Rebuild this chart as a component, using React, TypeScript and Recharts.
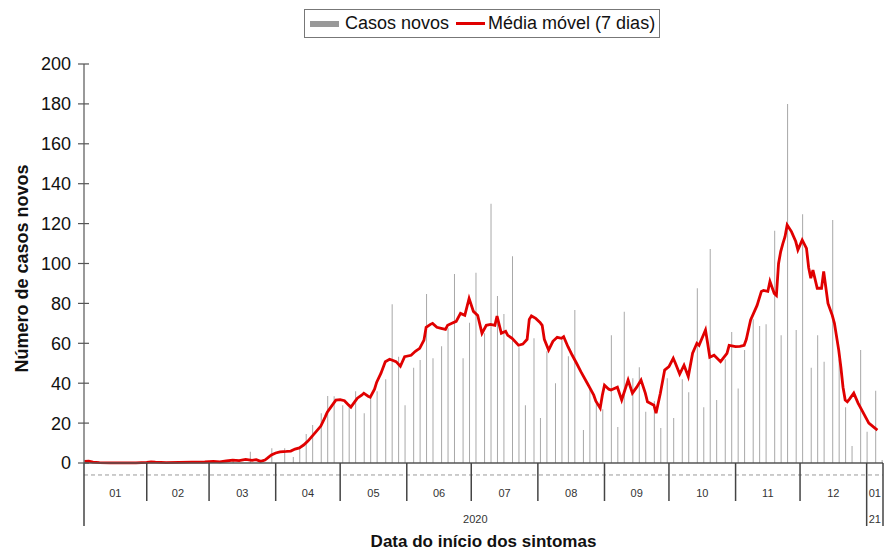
import React from 'react';
import { ComposedChart, Bar, Line, XAxis, YAxis, ReferenceLine } from 'recharts';

// Dia 0 = 01/01/2020
const diasCasos = [71, 79, 89, 95, 99, 102, 105, 108, 112, 115, 118, 122, 125, 128, 132, 135, 138, 142, 145, 148, 151, 155, 158, 161, 164, 168, 171, 174, 178, 181, 184, 188, 191, 194, 197, 201, 204, 207, 211, 214, 217, 221, 224, 227, 230, 234, 237, 240, 243, 247, 250, 253, 257, 260, 263, 267, 270, 273, 276, 280, 283, 287, 290, 293, 296, 300, 303, 306, 309, 313, 316, 319, 323, 326, 329, 333, 336, 340, 343, 346, 350, 353, 356, 359, 363, 366, 370, 373];
const casosNovos = [2, 5.7, 7.4, 7.4, 3, 8, 14.5, 19, 25, 33.6, 33.4, 29, 28, 36, 25, 33, 36, 42, 79.6, 53.3, 29, 47.8, 51.6, 84.7, 52.5, 58.5, 67.5, 94.7, 52.5, 70.3, 95.4, 65, 130, 83.7, 74.7, 103.6, 58, 29, 62.5, 22.5, 56, 40, 62, 53.5, 76.7, 16.5, 38, 30, 27, 64, 18, 75.8, 42.5, 48, 25.7, 31, 17.5, 42.5, 22.5, 42, 35.5, 87.6, 28, 107.3, 31.6, 52, 65.7, 37.4, 56.6, 72, 68.7, 69.5, 116.4, 64, 180, 66.7, 124.7, 47.8, 64, 50.8, 121.8, 52, 28, 8.5, 56.6, 15.7, 36.2, 1.5];

const diasMedia = [2, 4, 6, 9, 14, 20, 26, 31, 33, 35, 40, 46, 52, 58, 62, 65, 68, 71, 74, 77, 80, 82, 84, 86, 87, 89, 91, 93, 96, 98, 100, 102, 104, 106, 108, 110, 112, 114, 115, 117, 119, 121, 123, 125, 126, 128, 129, 131, 132, 134, 135, 137, 138, 140, 142, 144, 145, 147, 149, 151, 154, 156, 158, 160, 161, 163, 164, 166, 168, 170, 171, 173, 175, 177, 179, 181, 183, 185, 187, 189, 191, 193, 194, 196, 198, 199, 201, 204, 206, 208, 209, 210, 212, 214, 215, 216, 218, 220, 222, 224, 225, 227, 229, 231, 233, 236, 237, 239, 240, 242, 243, 244, 246, 247, 250, 252, 255, 257, 259, 261, 263, 264, 267, 268, 270, 272, 274, 276, 277, 279, 281, 283, 285, 287, 288, 291, 292, 293, 295, 298, 301, 302, 305, 307, 309, 310, 312, 315, 317, 318, 320, 321, 322, 323, 324, 325, 326, 327, 328, 329, 331, 333, 334, 336, 338, 339, 340, 341, 343, 345, 346, 348, 350, 351, 353, 354, 355, 356, 357, 358, 360, 362, 364, 365, 367, 369, 371];
const mediaMovel = [0.8, 0.9, 0.4, 0.2, 0.1, 0.1, 0.1, 0.3, 0.6, 0.4, 0.2, 0.3, 0.4, 0.5, 0.8, 0.6, 1.0, 1.4, 1.2, 1.8, 1.3, 1.7, 0.8, 1.5, 2.3, 4.0, 5.0, 5.6, 5.8, 6.0, 7.0, 7.6, 9.0, 11, 13.5, 16, 18.5, 23, 25.5, 28.5, 31.5, 31.8, 31.2, 29, 28, 31, 32.5, 34, 35, 33.5, 33, 37, 40.5, 45, 50.8, 52, 51.6, 50.8, 48.5, 53.3, 54, 56, 57.5, 61.6, 68, 69.5, 70, 68, 67.5, 67, 69, 70, 71, 75, 74, 82.5, 76, 74, 65, 69, 69.5, 69, 73.7, 65, 66, 64, 62.5, 59, 59.6, 62, 72, 73.7, 72.5, 70.5, 69, 62, 56.6, 61, 63, 62.5, 63.3, 58.3, 54, 50, 45.8, 40, 38, 34, 31, 27.5, 34, 39, 37, 36.6, 38, 31.6, 41.6, 35, 38, 41.6, 35, 30.7, 29, 25, 35, 46.6, 48.3, 52.5, 50, 44.6, 49, 43.3, 55, 60, 59, 66.7, 60, 53, 54, 50.8, 55, 59, 58.3, 58.5, 59, 62, 71.7, 79, 86, 86.5, 86, 91, 88, 85, 84, 100, 106, 110, 113.4, 119.3, 116, 111, 106.8, 111.8, 107.6, 98, 92.6, 96.7, 87.6, 87.6, 96, 80, 74, 70, 56.6, 48, 38, 31.6, 30.7, 32, 35, 30, 26, 24, 20, 18.2, 16.5];

const inicioMeses = [31, 60, 91, 121, 152, 182, 213, 244, 274, 305, 335, 366];
const rotulosMeses = ['01', '02', '03', '04', '05', '06', '07', '08', '09', '10', '11', '12', '01'];
const rotulosAnos = ['2020', '21'];
const yTicks = [0, 20, 40, 60, 80, 100, 120, 140, 160, 180, 200];
const DOMINIO: [number, number] = [1.8, 373.6];

const FONT = '"Liberation Sans", Arial, sans-serif';

// merge data
const mapa = new Map<number, any>();
diasCasos.forEach((d, i) => {
  mapa.set(d, { ...(mapa.get(d) || { dia: d }), casos: casosNovos[i] });
});
diasMedia.forEach((d, i) => {
  mapa.set(d, { ...(mapa.get(d) || { dia: d }), media: mediaMovel[i] });
});
const dados = Array.from(mapa.values()).sort((a, b) => a.dia - b.dia);

type TickDef = { v: number; kind: 'b' | 'm' | 'y'; len?: number; label?: string };
const tickDefs: TickDef[] = [];
tickDefs.push({ v: DOMINIO[0], kind: 'b', len: 63 });
inicioMeses.forEach((d, i) => {
  tickDefs.push({ v: d, kind: 'b', len: i === inicioMeses.length - 1 ? 63 : 38 });
});
tickDefs.push({ v: DOMINIO[1], kind: 'b', len: 63 });
const limites = [DOMINIO[0], ...inicioMeses, DOMINIO[1]];
rotulosMeses.forEach((lab, i) => {
  tickDefs.push({ v: (limites[i] + limites[i + 1]) / 2, kind: 'm', label: lab });
});
tickDefs.push({ v: (DOMINIO[0] + 366) / 2, kind: 'y', label: rotulosAnos[0] });
tickDefs.push({ v: (366 + DOMINIO[1]) / 2 + 0.01, kind: 'y', label: rotulosAnos[1] });
const xTicks = tickDefs.map((t) => t.v).sort((a, b) => a - b);

const XTick = (props: any) => {
  const { x, y, payload } = props;
  const def = tickDefs.find((d) => Math.abs(d.v - payload.value) < 1e-6);
  if (!def) return <g />;
  if (def.kind === 'b') {
    return <line x1={x} x2={x} y1={y} y2={y + (def.len || 38)} stroke="#444" strokeWidth={1.5} />;
  }
  return (
    <text x={x} y={y + (def.kind === 'm' ? 34 : 60)} textAnchor="middle" fontSize={11} fill="#333" fontFamily={FONT}>
      {def.label}
    </text>
  );
};

const YTick = (props: any) => {
  const { x, y, payload } = props;
  return (
    <g>
      <line x1={x - 6} x2={x + 5} y1={y} y2={y} stroke="#555" strokeWidth={1.2} />
      <text x={x - 13} y={y} dy="0.36em" textAnchor="end" fontSize={18} fill="#111" fontFamily={FONT}>
        {payload.value}
      </text>
    </g>
  );
};

const YLabel = (props: any) => {
  const vb = props.viewBox || {};
  const cx = 14;
  const cy = (vb.y || 0) + (vb.height || 0) / 2 + 5;
  return (
    <text x={cx} y={cy} transform={`rotate(-90, ${cx}, ${cy})`} textAnchor="middle" dominantBaseline="central" fontSize={18} fontWeight="bold" fill="#111" fontFamily={FONT}>
      Número de casos novos
    </text>
  );
};

export default function App() {
  return (
    <div style={{ position: 'relative', width: 886, height: 544, fontFamily: FONT }}>
      <ComposedChart width={886} height={544} data={dados} margin={{ top: 56, right: 11, bottom: 0, left: 0 }}>
        <XAxis
          dataKey="dia"
          type="number"
          domain={DOMINIO}
          allowDataOverflow
          ticks={xTicks}
          interval={0}
          tick={<XTick />}
          tickLine={false}
          tickSize={0}
          tickMargin={0}
          height={89}
          axisLine={{ stroke: '#555', strokeWidth: 1.5 }}
          label={{ value: 'Data do início dos sintomas', position: 'insideBottom', offset: 5, fontSize: 17, fontWeight: 'bold', fill: '#111', fontFamily: FONT }}
        />
        <YAxis
          type="number"
          domain={[0, 200]}
          ticks={yTicks}
          interval={0}
          width={76}
          tick={<YTick />}
          tickLine={false}
          tickSize={0}
          tickMargin={0}
          axisLine={{ stroke: '#555', strokeWidth: 1.2 }}
          label={<YLabel />}
        />
        <ReferenceLine y={-6} stroke="#999" strokeDasharray="4 3" ifOverflow="visible" />
        <Bar dataKey="casos" fill="#a8a8a8" barSize={1} isAnimationActive={false} />
        <Line dataKey="media" type="linear" stroke="#e00000" strokeWidth={2.8} dot={false} connectNulls isAnimationActive={false} />
      </ComposedChart>
      <div
        style={{
          position: 'absolute',
          left: 296,
          top: 1,
          width: 356,
          height: 29,
          border: '1px solid #777',
          boxSizing: 'border-box',
          display: 'flex',
          alignItems: 'center',
          fontSize: 18,
          color: '#111',
          background: '#fff',
          whiteSpace: 'nowrap',
        }}
      >
        <span style={{ display: 'inline-block', width: 29, height: 6, background: '#999', marginLeft: 5 }} />
        <span style={{ marginLeft: 6 }}>Casos novos</span>
        <span style={{ display: 'inline-block', width: 29, height: 3, background: '#e00000', marginLeft: 7 }} />
        <span style={{ marginLeft: 3 }}>Média móvel (7 dias)</span>
      </div>
    </div>
  );
}
